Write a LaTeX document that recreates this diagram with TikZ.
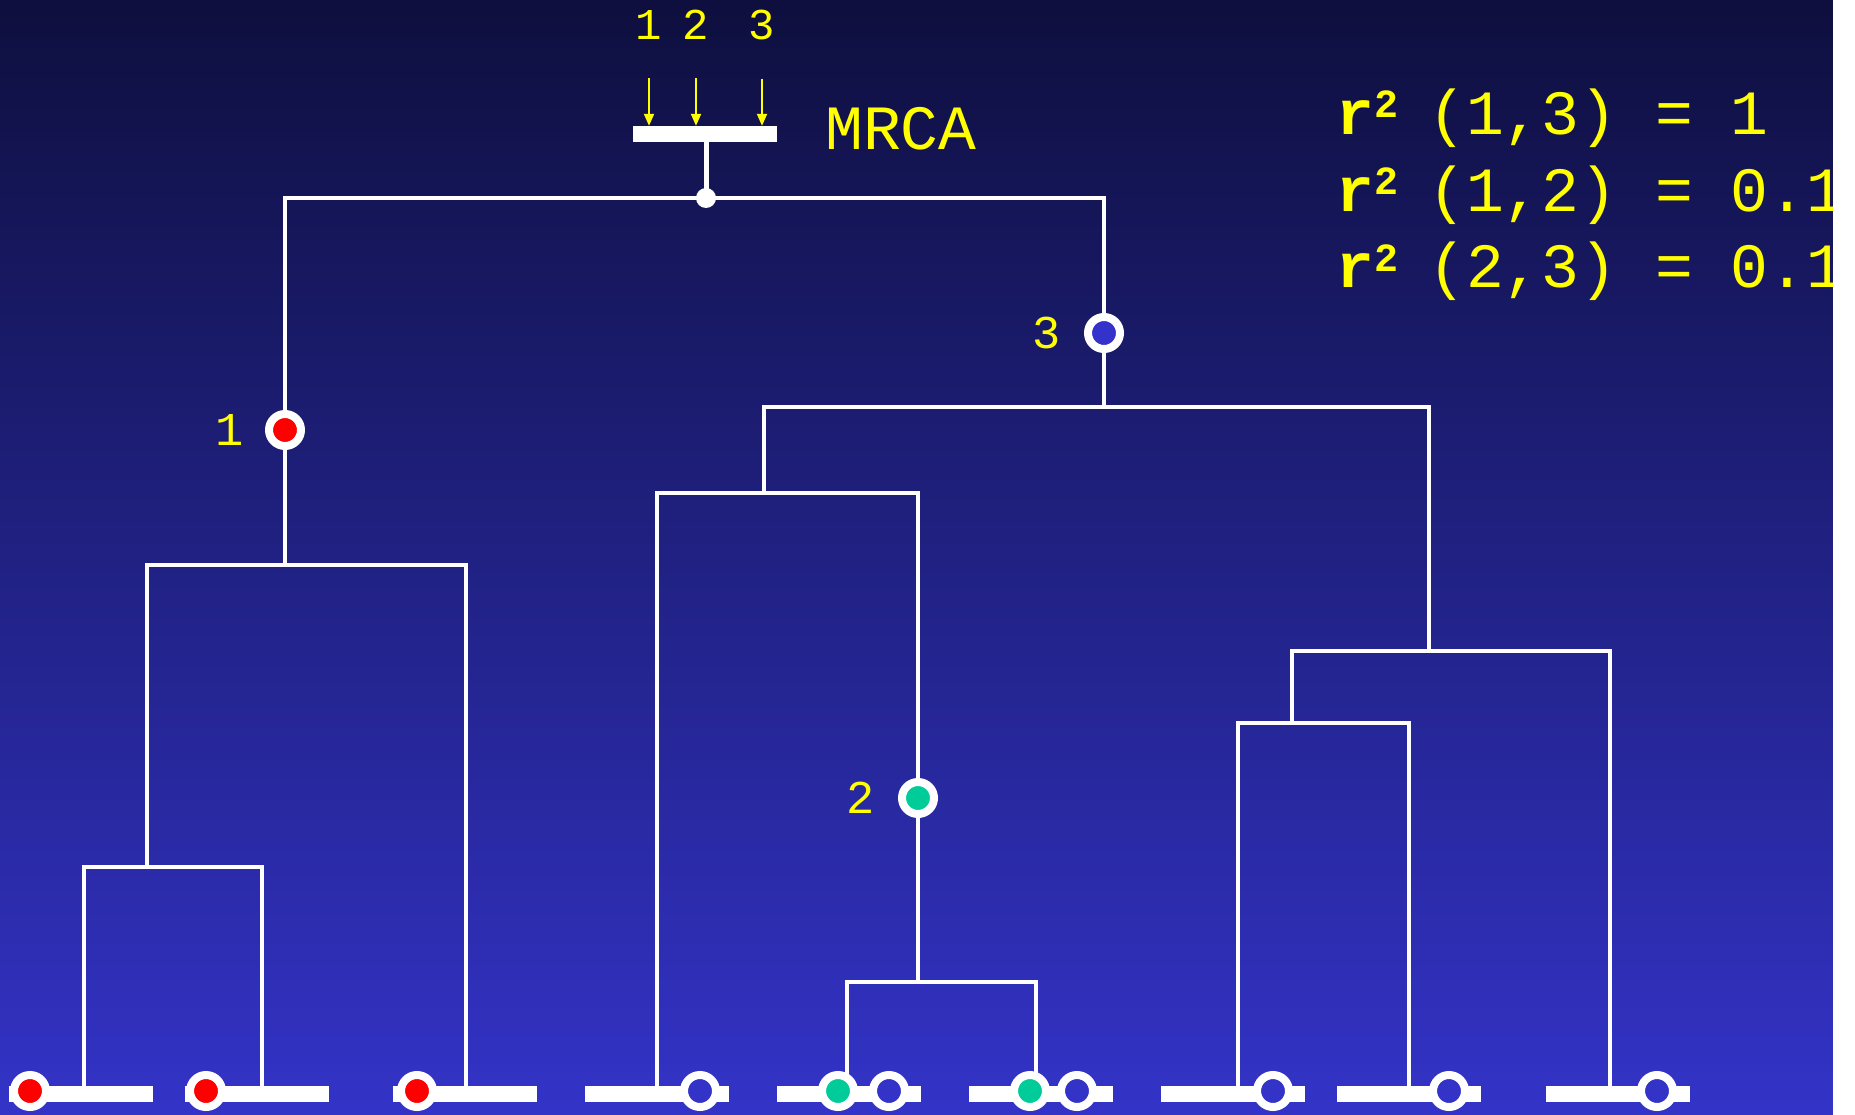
\documentclass[tikz,border=0pt]{standalone}
\usepackage{fontspec}
\newfontfamily\cour{Liberation Mono}
\usetikzlibrary{arrows.meta,positioning}

\definecolor{bgtop}{RGB}{14,15,62}
\definecolor{bgbot}{RGB}{51,51,200}
\definecolor{mutred}{RGB}{255,0,0}
\definecolor{mutgreen}{RGB}{0,204,153}
\definecolor{mutblue}{RGB}{51,51,204}
\definecolor{labyellow}{RGB}{255,255,0}

\newcommand{\rsq}{\makebox[92pt][l]{\bfseries r\raisebox{17pt}{\fontsize{40}{40}\selectfont 2}}}

\begin{document}
\begin{tikzpicture}[
    x=1pt, y=-1pt,
    branch/.style={draw=white, line width=4.5pt},
    allele/.style={circle, draw=white, line width=8pt, minimum size=32pt, inner sep=0pt},
    leafbar/.style={fill=white, minimum width=144pt, minimum height=16pt, inner sep=0pt},
    mlabel/.style={text=labyellow, font=\cour\fontsize{47}{47}\selectfont, inner sep=0pt},
    toplabel/.style={text=labyellow, font=\cour\fontsize{44}{44}\selectfont, inner sep=0pt, anchor=base},
    rline/.style={text=labyellow, font=\cour\fontsize{63}{63}\selectfont, inner sep=0pt, anchor=base west},
    pointer/.style={draw=labyellow, line width=2pt, -{Triangle[length=12pt,width=10pt]}, shorten <=38pt}
  ]

  \useasboundingbox (0,0) rectangle (1855,1115);
  \shade[top color=bgtop, bottom color=bgbot] (0,0) rectangle (1833,1115);

  % tree joints
  \coordinate (root) at (706,198);
  \coordinate (c1) at (285,565);
  \coordinate (c1a) at (147,867);
  \coordinate (c3) at (1104,407);
  \coordinate (c3a) at (764,493);
  \coordinate (c2) at (918,982);
  \coordinate (c3b) at (1429,651);
  \coordinate (c3c) at (1292,723);

  \coordinate (l1) at (84,1094);
  \coordinate (l2) at (262,1094);
  \coordinate (l3) at (466,1094);
  \coordinate (l4) at (657,1094);
  \coordinate (l5) at (847,1094);
  \coordinate (l6) at (1036,1094);
  \coordinate (l7) at (1238,1094);
  \coordinate (l8) at (1409,1094);
  \coordinate (l9) at (1610,1094);

  \draw[branch] (c1) |- (root) -| (c3);
  \draw[branch] (c1a) |- (c1) -| (l3);
  \draw[branch] (l1) |- (c1a) -| (l2);
  \draw[branch] (c3a) |- (c3) -| (c3b);
  \draw[branch] (l4) |- (c3a) -| (c2);
  \draw[branch] (l5) |- (c2) -| (l6);
  \draw[branch] (c3c) |- (c3b) -| (l9);
  \draw[branch] (l7) |- (c3c) -| (l8);

  % MRCA
  \node[leafbar] (mrca) at (705,134) {};
  \draw[white, line width=5pt] (mrca.south -| root) -- (root);
  \node[circle, fill=white, minimum size=20pt, inner sep=0pt] (rootdot) at (root) {};
  \node[rline, font=\cour\fontsize{63}{63}\selectfont] (mrcatext) at (825,150) {MRCA};

  \node[toplabel] (t1) at (649,40) {1};
  \node[toplabel] (t2) at (696,40) {2};
  \node[toplabel] (t3) at (762,40) {3};
  \draw[pointer] (t1.south) -- (t1.south |- mrca.north);
  \draw[pointer] (t2.south) -- (t2.south |- mrca.north);
  \draw[pointer] (t3.south) -- (t3.south |- mrca.north);

  % mutations
  \node[allele, fill=mutred, label={[mlabel, label distance=21pt]left:1}] (m1) at (285,430) {};
  \node[allele, fill=mutblue, label={[mlabel, label distance=23pt]left:3}] (m3) at (1104,333) {};
  \node[allele, fill=mutgreen, label={[mlabel, label distance=23pt]left:2}] (m2) at (918,798) {};

  % haplotypes
  \node[leafbar] (b1) at (81,1094) {};
  \node[leafbar] (b2) at (257,1094) {};
  \node[leafbar] (b3) at (465,1094) {};
  \node[leafbar] (b4) at (657,1094) {};
  \node[leafbar] (b5) at (849,1094) {};
  \node[leafbar] (b6) at (1041,1094) {};
  \node[leafbar] (b7) at (1233,1094) {};
  \node[leafbar] (b8) at (1409,1094) {};
  \node[leafbar] (b9) at (1618,1094) {};

  \node[allele, fill=mutred] (s1) at (30,1091) {};
  \node[allele, fill=mutred] (s2) at (206,1091) {};
  \node[allele, fill=mutred] (s3) at (417,1091) {};
  \node[allele, fill=bgbot] (s4) at (700,1091) {};
  \node[allele, fill=mutgreen] (s5) at (838,1091) {};
  \node[allele, fill=bgbot] (s6) at (889,1091) {};
  \node[allele, fill=mutgreen] (s7) at (1030,1091) {};
  \node[allele, fill=bgbot] (s8) at (1077,1091) {};
  \node[allele, fill=bgbot] (s9) at (1273,1091) {};
  \node[allele, fill=bgbot] (s10) at (1449,1091) {};
  \node[allele, fill=bgbot] (s11) at (1657,1091) {};

  % r^2 values
  \node[rline] (r13) at (1336,135) {\rsq(1,3) = 1};
  \node[rline] (r12) at (1336,212) {\rsq(1,2) = 0.1};
  \node[rline] (r23) at (1336,288) {\rsq(2,3) = 0.1};

  \fill[white] (1833,0) rectangle (1855,1115);

\end{tikzpicture}
\end{document}
